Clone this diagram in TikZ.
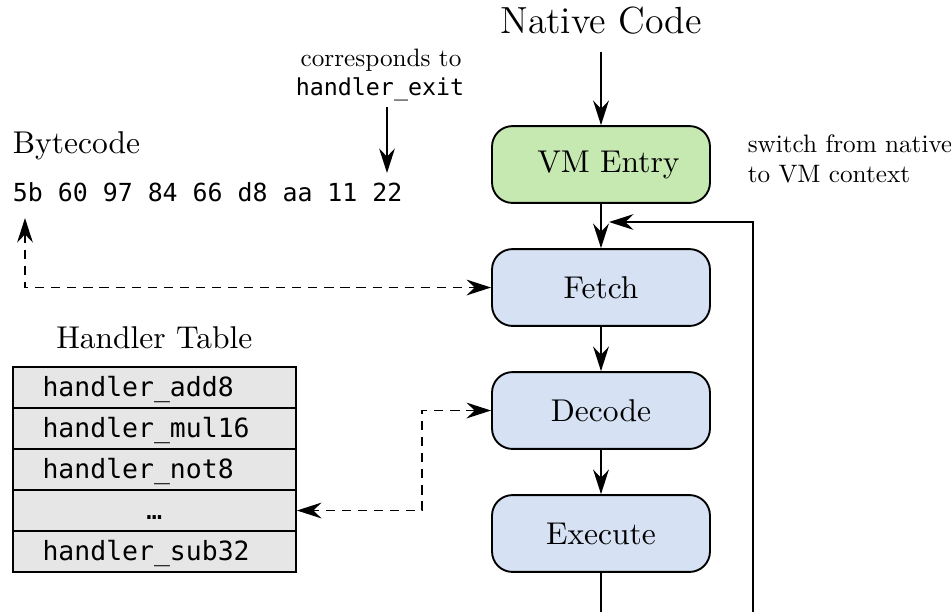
\documentclass[tikz,border=0pt]{standalone}
\usepackage{fontspec}
\newfontfamily\monof{DejaVu Sans Mono}
\usetikzlibrary{arrows.meta}
\definecolor{vmgreen}{RGB}{198,233,178}
\definecolor{vmblue}{RGB}{214,226,243}
\definecolor{tblgray}{RGB}{230,230,230}
\begin{document}
\begin{tikzpicture}[x=0.3175pt,y=-0.3175pt, line width=0.6pt,
  stage/.style={draw=black, rounded corners=6.5pt, minimum width=69.2pt, minimum height=24.4pt, inner sep=0pt},
  arr/.style={-{Stealth[length=7.8pt,width=5pt,inset=2.6pt]}},
  darr/.style={{Stealth[length=7.8pt,width=5pt,inset=2.6pt]}-{Stealth[length=7.8pt,width=5pt,inset=2.6pt]}, dash pattern=on 2.9pt off 2.2pt},
  tblrow/.style={draw=black, fill=tblgray, minimum width=89.95pt, minimum height=13.02pt, text width=70.95pt, inner xsep=9.5pt, inner ysep=0pt, align=left, text height=7pt, text depth=1pt, font=\monof\fontsize{8.4}{10}\selectfont},
  label/.style={inner sep=0pt},
  small/.style={scale=0.8}]
\useasboundingbox (0,0) rectangle (951,612);

% flow boxes
\node[label, font=\large, anchor=base, inner sep=5.4pt] (native) at (601,33) {Native Code};
\node[stage, fill=vmgreen] (vm) at (601,164.5) {\hspace*{4.7pt}VM Entry};
\node[stage, fill=vmblue] (fetch) at (601,287.5) {Fetch};
\node[stage, fill=vmblue] (decode) at (601,410.5) {Decode};
\node[stage, fill=vmblue] (exec) at (601,533.5) {Execute};

\node[label, small, align=left, anchor=north west] (note) at (747,134) {switch from native\\to VM context};

% bytecode
\node[label, anchor=base west] (bclabel) at (12,153) {Bytecode};
\node[label, anchor=base west, font=\monof\fontsize{7.9}{9.5}\selectfont] (bytes) at (12,201) {5b 60 97 84 66 d8 aa 11 22};
\node[label, anchor=base, small] (corr) at (381,66) {corresponds to};
\node[label, anchor=base, font=\monof\fontsize{7.4}{9}\selectfont] (hexit) at (380,95) {handler\_exit};

% handler table
\node[label, anchor=base] (htlabel) at (154.3,348) {Handler Table};
\node[tblrow] (r1) at (154.3,387.5) {handler\_add8};
\node[tblrow] (r2) at (154.3,428.5) {handler\_mul16};
\node[tblrow] (r3) at (154.3,469.5) {handler\_not8};
\node[tblrow, align=center] (r4) at (154.3,510.5) {…};
\node[tblrow] (r5) at (154.3,551.5) {handler\_sub32};

% coordinates
\coordinate (exittop) at (387,107);
\coordinate (exit22) at (387,173);
\coordinate (bc5b) at (25,218);
\coordinate (turn) at (422,410.5);
\coordinate (bottomA) at (601,612);
\coordinate (bottomB) at (753,612);
\coordinate (loopend) at (609,222);

% connectors
\draw[arr] (native.south) -- (vm.north);
\draw[arr] (vm.south) -- (fetch.north);
\draw[arr] (fetch.south) -- (decode.north);
\draw[arr] (decode.south) -- (exec.north);
\draw (exec.south) -- (bottomA);
\draw[arr] (bottomB) |- (loopend);
\draw[arr] (exittop) -- (exit22);
\draw[darr] (bc5b) |- (fetch.west);
\draw[darr] (decode.west) -- (turn) |- (r4.east);
\end{tikzpicture}
\end{document}
